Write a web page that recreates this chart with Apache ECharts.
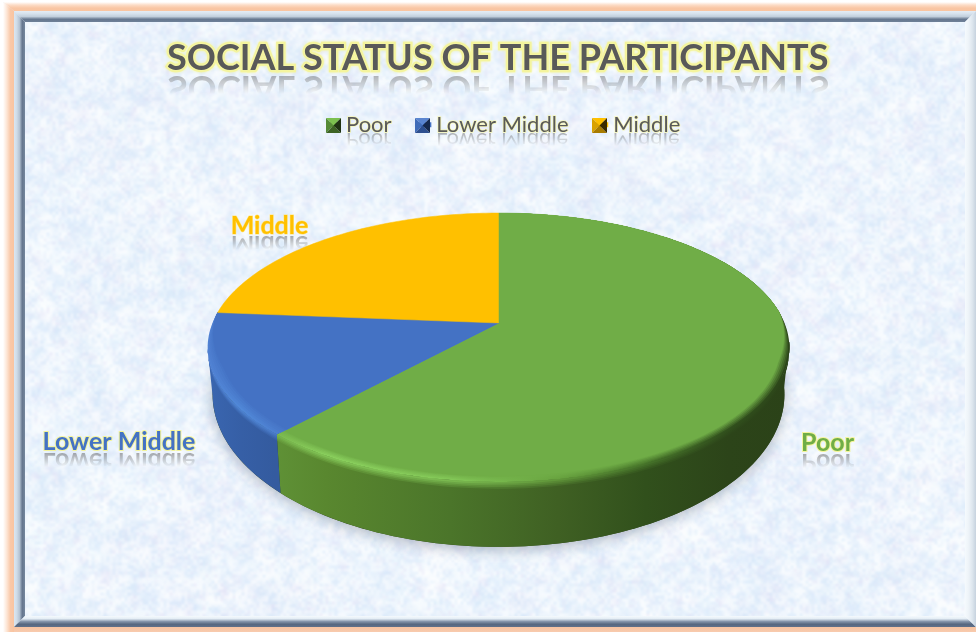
<!DOCTYPE html>
<html>
<head>
<meta charset="utf-8">
<style>html,body{margin:0;padding:0;background:#fff}#chart{width:976px;height:632px}</style>
<script src="https://cdn.jsdelivr.net/npm/echarts@6/dist/echarts.min.js"></script>
</head>
<body>
<div id="chart"></div>
<script>
// Chart content
const chartTitle = 'SOCIAL STATUS OF THE PARTICIPANTS';
const categories = ['Poor', 'Lower Middle', 'Middle'];
const shares = [61.7, 14.6, 23.7];
const sliceColors = ['#70ad47', '#4472c4', '#ffc000'];

// Disc geometry: a circle seen in perspective, with a side wall below it
const DISC = { cx: 498.5, apexY: 323, R: 286, K: 130, p: 0.182, drop: 43.6, rShrink: 0.017, kGrow: 0.134 };
const W = 976, H = 632;

function discPoint(deg, level, r) {
  const a = deg * Math.PI / 180;
  const u = r * Math.sin(a), v = -r * Math.cos(a);
  const s = 1 / (1 - DISC.p * v);
  return [DISC.cx + DISC.R * (1 - DISC.rShrink * level) * u * s,
          DISC.apexY + DISC.drop * level + DISC.K * (1 + DISC.kGrow * level) * v * s];
}

function arc(from, to, level, rFn) {
  const pts = [];
  const n = Math.max(2, Math.ceil(Math.abs(to - from) / 1.5));
  for (let i = 0; i <= n; i++) {
    const d = from + (to - from) * i / n;
    pts.push(discPoint(d, level, rFn ? rFn(d) : 1));
  }
  return pts;
}

function hexRgb(h) { return [1, 3, 5].map(i => parseInt(h.substr(i, 2), 16)); }
function mixHex(a, b, t) {
  const A = hexRgb(a), B = hexRgb(b);
  return '#' + A.map((c, i) => Math.round(c + (B[i] - c) * t).toString(16).padStart(2, '0')).join('');
}

// Horizontal shading of the rim highlight and of the wall
const SHADE = [
  { wallFrom: 98, wallTo: null, x0: 275, x1: 790,
    offs: [0, 0.1, 0.34, 0.55, 0.72, 0.88, 1],
    rim:  ['#7bba4f', '#8ad05d', '#84c958', '#68a33f', '#4a7a2c', '#31501d', '#2c4519'],
    wall: ['#5f9136', '#59872f', '#4b752a', '#3f6023', '#31501c', '#2c4419', '#2b4218'] },
  { wallFrom: null, wallTo: 259, x0: 207, x1: 275,
    offs: [0, 0.5, 1],
    rim:  ['#4f80d2', '#5088d8', '#4d80d0'],
    wall: ['#3a66b0', '#365fa6', '#345b9f'] }
];

function gradient(x0, x1, offs, colors) {
  return new echarts.graphic.LinearGradient(x0, 0, x1, 0,
    offs.map((o, i) => ({ offset: o, color: colors[i] })), true);
}

function sliceRenderer(index) {
  return function (params, api) {
    const value = api.value(0);
    const total = shares.reduce((a, b) => a + b, 0);
    let start = 0;
    for (let i = 0; i < index; i++) start += shares[i];
    const a0 = start / total * 360;
    const a1 = a0 + value / total * 360;
    const base = sliceColors[index];
    const children = [];

    if (index === 0) {
      // Soft ground shadow under the whole disc
      children.push({ type: 'polygon', shape: { points: arc(0, 360, 1) },
        style: { fill: '#2c4419', shadowColor: 'rgba(40,50,70,0.32)', shadowBlur: 14, shadowOffsetY: 3 } });
    }

    const shade = SHADE[index];
    let rFn = null;
    if (shade) {
      const from = shade.wallFrom === null ? a0 : shade.wallFrom;
      const to = shade.wallTo === null ? a1 : shade.wallTo;
      const rimInner = index === 0 ? 0.97 : 0.96;
      rFn = d => {
        let f = 1;
        if (index === 0) f = Math.min(1, Math.max(0, (d - 85) / 22));
        if (index === 1) f = Math.min(1, Math.max(0, (274 - d) / 24));
        return 1 - (1 - rimInner) * f;
      };
      // Wall, then a rounded shoulder blending wall into rim
      children.push({ type: 'polygon', shape: { points: arc(from, to, 1).concat(arc(to, from, 0)) },
        style: { fill: gradient(shade.x0, shade.x1, shade.offs, shade.wall) } });
      const shoulder = 5;
      for (let s = 0; s < shoulder; s++) {
        const t = (s + 1) / shoulder;
        const lvl = 0.13 * (1 - t);
        const pts = arc(to, from, lvl).concat(arc(from, to, 0));
        const cols = shade.rim.map((c, i) => mixHex(shade.wall[i], c, t));
        children.push({ type: 'polygon', shape: { points: pts },
          style: { fill: gradient(shade.x0, shade.x1, shade.offs, cols) } });
      }
      // Rim highlight on the upper face, fading toward the flat colour
      const steps = 5;
      for (let s = 0; s < steps; s++) {
        const t = s / steps;
        const rs = d => 1 - (1 - rFn(d)) * t;
        const pts = [discPoint(0, 0, 0)].concat(arc(a0, a1, 0, rs));
        const cols = shade.rim.map(c => mixHex(c, base, t));
        children.push({ type: 'polygon', shape: { points: pts },
          style: { fill: gradient(shade.x0, shade.x1, shade.offs, cols) } });
      }
    }
    // Flat upper face of the slice
    children.push({ type: 'polygon',
      shape: { points: [discPoint(0, 0, 0)].concat(arc(a0, a1, 0, rFn)) },
      style: { fill: base, stroke: base, lineWidth: 0.5 } });
    return { type: 'group', children };
  };
}

// Mottled paper texture painted from stacked, smoothly enlarged tiles
function makeTexture() {
  const c = document.createElement('canvas');
  c.width = W; c.height = H;
  const g = c.getContext('2d');
  g.fillStyle = '#eef7fe';
  g.fillRect(0, 0, W, H);
  let seed = 90217;
  const next = () => (seed = (seed * 1664525 + 1013904223) >>> 0) / 4294967296;
  [[64, 0.2], [30, 0.3], [14, 0.45], [7, 0.55], [3, 0.4]].forEach(([cell, alpha]) => {
    const w = Math.ceil(W / cell) + 2, h = Math.ceil(H / cell) + 2;
    const t = document.createElement('canvas');
    t.width = w; t.height = h;
    const tg = t.getContext('2d');
    const img = tg.createImageData(w, h);
    for (let i = 0; i < w * h; i++) {
      const n = next(), m = next();
      const col = n > 0.5 ? [255, 255, 255] : (m > 0.75 ? [224, 222, 244] : [210, 228, 248]);
      img.data[i * 4] = col[0]; img.data[i * 4 + 1] = col[1]; img.data[i * 4 + 2] = col[2];
      img.data[i * 4 + 3] = 255 * alpha * Math.abs(n - 0.5) * 1.9;
    }
    tg.putImageData(img, 0, 0);
    g.imageSmoothingEnabled = true;
    g.imageSmoothingQuality = 'high';
    g.drawImage(t, -cell / 2, -cell / 2, w * cell, h * cell);
  });
  return c;
}
const texture = makeTexture();

// A piece of the texture whose opacity rises downward; it fades mirrored text out
function fadePatch(x, y, w, fadeH, solidH) {
  const h = fadeH + solidH;
  const c = document.createElement('canvas');
  c.width = w; c.height = h;
  const g = c.getContext('2d');
  g.drawImage(texture, -x, -y);
  g.globalCompositeOperation = 'destination-in';
  const lg = g.createLinearGradient(0, 0, 0, h);
  lg.addColorStop(0, 'rgba(0,0,0,0)');
  lg.addColorStop(fadeH / h, 'rgba(0,0,0,1)');
  lg.addColorStop(1, 'rgba(0,0,0,1)');
  g.fillStyle = lg;
  g.fillRect(0, 0, w, h);
  return { type: 'image', z: 1, silent: true, style: { image: c, x, y, width: w, height: h } };
}

// Text flipped about a horizontal line so its baseline sits at reflectY
function mirrored(text, cx, reflectY, size, weight, fill, opacity) {
  return { type: 'text', z: 1, silent: true, x: cx, y: reflectY - 0.16 * size, scaleY: -1,
    style: { text, x: 0, y: 0, font: weight + ' ' + size + 'px Lato', fill, opacity, align: 'center', verticalAlign: 'bottom' } };
}

const TITLE_SIZE = 36.1, LEGEND_SIZE = 22, LABEL_SIZE = 25;
const GLOW = '#f4f49c';

// Slice captions beside the disc: category, centre x, centre y, reflection baseline
const captionSpots = [[0, 827.5, 443, 454], [2, 269.5, 226, 236], [1, 119, 442, 453]];
const legendTextCentres = [368.5, 502, 646];
const swatchLeft = [326, 415, 592];
const swatchTop = 118, swatchSize = 15;
const swatchShades = [
  ['#7cc04f', '#558a36', '#3d6324', '#1f3312'],
  ['#5a85d0', '#3f6bb8', '#2d4f8f', '#16294d'],
  ['#ffc000', '#d9a200', '#a87c00', '#3a2b00']
];

const graphics = [];

// Textured panel, peach glow and raised frame
graphics.push({ type: 'image', z: 0, silent: true, style: { image: texture, x: 0, y: 0, width: W, height: H } });
graphics.push({ type: 'polygon', z: 0, silent: true,
  shape: { points: [[0, 0], [976, 0], [976, 2], [3, 2], [3, 632], [0, 632]] }, style: { fill: '#ffffff' } });
function strip(points, x, y, x2, y2, stops) {
  graphics.push({ type: 'polygon', z: 0, silent: true, shape: { points },
    style: { fill: new echarts.graphic.LinearGradient(x, y, x2, y2,
      stops.map((c, i) => ({ offset: i / (stops.length - 1), color: c })), true) } });
}
strip([[3, 2], [976, 2], [976, 11], [14, 11]], 0, 2, 0, 11, ['#ffffff', '#fcdcc6', '#f9c6a4', '#f9c4a0']);
strip([[3, 2], [14, 11], [14, 632], [3, 632]], 3, 0, 14, 0, ['#ffffff', '#fde6d6', '#f9c8a8', '#f9c4a0']);
strip([[14, 627], [976, 627], [976, 632], [14, 632]], 0, 627, 0, 632, ['#f7c3a1', '#f8cbae']);
strip([[14, 11], [976, 11], [965, 22], [25, 22]], 0, 11, 0, 22, ['#e4ecf4', '#d6e1ec', '#c2cfdc', '#65768e', '#6f8198']);
strip([[14, 11], [25, 22], [25, 616], [14, 627]], 14, 0, 25, 0, ['#dbe6f0', '#cfdce8', '#b4c3d3', '#65768e', '#74869c']);
strip([[14, 627], [25, 616], [965, 616], [976, 627]], 0, 616, 0, 627, ['#f5fafd', '#e4edf5', '#8595ab', '#56677f', '#5f708a']);
strip([[965, 22], [976, 11], [976, 627], [965, 616]], 965, 0, 976, 0, ['#f5fafd', '#edf3f8', '#dde6ee', '#c6d2de']);

// Title reflection
graphics.push(mirrored(chartTitle, DISC.cx, 75, TITLE_SIZE, 'bold', '#595959', 0.45));
graphics.push(fadePatch(150, 75, 700, 19, 18));

// Legend reflections
categories.forEach((name, i) => {
  graphics.push(mirrored(name, legendTextCentres[i], 133, LEGEND_SIZE, 'normal', '#595959', 0.45));
});
graphics.push(fadePatch(340, 133, 350, 13, 14));

// Slice captions and their reflections
captionSpots.forEach(([c, cx, cy, refl]) => {
  graphics.push(mirrored(categories[c], cx, refl, LABEL_SIZE, 'bold', '#666666', 0.55));
  graphics.push(fadePatch(Math.round(cx - 90), refl, 180, 14, 14));
  graphics.push({ type: 'text', z: 3, silent: true, x: cx, y: cy,
    style: { text: categories[c], font: 'bold ' + LABEL_SIZE + 'px Lato', fill: sliceColors[c], align: 'center', verticalAlign: 'middle',
      stroke: c === 2 ? '#ffe88f' : GLOW, lineWidth: c === 2 ? 1 : 2 } });
});

// Bevelled pyramid faces over the legend keys
categories.forEach((_, i) => {
  const x = swatchLeft[i], y = swatchTop, s = swatchSize, m = [x + s / 2, y + s / 2];
  const faces = [
    [[x, y], [x + s, y], m],
    [[x, y], [x, y + s], m],
    [[x, y + s], [x + s, y + s], m],
    [[x + s, y], [x + s, y + s], m]
  ];
  faces.forEach((pts, f) => graphics.push({ type: 'polygon', z: 9, silent: true, shape: { points: pts },
    style: { fill: swatchShades[i][f] } }));
});

const chart = echarts.init(document.getElementById('chart'), null, { renderer: 'canvas' });
chart.setOption({
  animation: false,
  backgroundColor: '#ffffff',
  color: sliceColors,
  title: {
    text: chartTitle, left: 167, top: 40, padding: 0,
    textStyle: { fontFamily: 'Lato', fontWeight: 'bold', fontSize: TITLE_SIZE, color: '#595959',
      textBorderColor: GLOW, textBorderWidth: 4.5, textShadowColor: '#f7f7a8', textShadowBlur: 3 }
  },
  legend: {
    left: 326, top: 113, itemWidth: swatchSize, itemHeight: 5, itemGap: 24, padding: 0,
    selectedMode: false, icon: 'rect', data: categories,
    textStyle: { fontFamily: 'Lato', fontSize: LEGEND_SIZE, color: '#595959', textBorderColor: '#f7f7b8', textBorderWidth: 1.5 }
  },
  graphic: { elements: graphics },
  series: categories.map((name, i) => ({
    type: 'custom', name, coordinateSystem: 'none', silent: true, z: 2,
    data: [[shares[i]]],
    renderItem: sliceRenderer(i)
  }))
});
</script>
</body>
</html>
